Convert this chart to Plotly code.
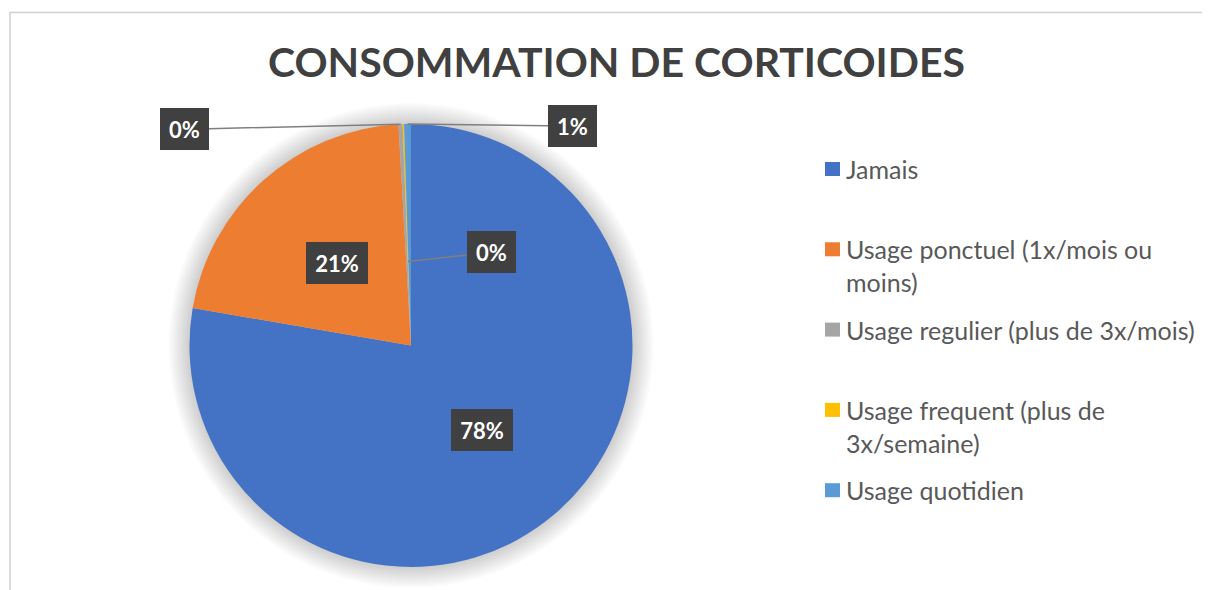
import math
import textwrap
import plotly.graph_objects as go

W, H = 1210, 590
OFF = 8  # page margin around the figure

categories = [
    "Jamais",
    "Usage ponctuel (1x/mois ou moins)",
    "Usage regulier (plus de 3x/mois)",
    "Usage frequent (plus de 3x/semaine)",
    "Usage quotidien",
]
values = [77.7, 21.4, 0.3, 0.1, 0.5]  # percent of respondents
colors = ["#4472C4", "#ED7D31", "#A5A5A5", "#FFC000", "#5B9BD5"]

# pie geometry in pixels (screen coords)
CX, CY, R = 411, 345.5, 221.5


def px(x):
    return (x - OFF) / W


def py(y):
    return 1 - (y - OFF) / H


def pct_text(v):
    return "%d%%" % math.floor(v + 0.5)


fig = go.Figure()

fig.add_trace(go.Pie(
    labels=categories, values=values, sort=False, direction="clockwise", rotation=0,
    marker=dict(colors=colors, line=dict(width=0)),
    textinfo="none", hoverinfo="label+percent", showlegend=False,
    domain=dict(x=[px(CX - R), px(CX + R)], y=[py(CY + R), py(CY - R)]),
))

shapes = []
# chart area border
shapes.append(dict(type="rect", xref="paper", yref="paper", x0=px(10), x1=1.02, y0=-0.02, y1=py(12.5),
                   line=dict(color="#D0D0D0", width=1.5), layer="below"))
# soft glow behind the pie
for i in range(10):
    r = R + 1 + i * 2.2
    shapes.append(dict(type="circle", xref="paper", yref="paper",
                       x0=px(CX - r), x1=px(CX + r), y0=py(CY + r), y1=py(CY - r),
                       fillcolor="rgba(0,0,0,0.02)", line=dict(width=0), layer="below"))

annotations = []
total = sum(values)
cum = 0
mids = []
for v in values:
    mids.append((cum + v / 2) / total * 2 * math.pi)
    cum += v


def on_pie(angle, frac):
    return CX + frac * R * math.sin(angle), CY - frac * R * math.cos(angle)


box = dict(bgcolor="#404040", borderwidth=0, borderpad=4, height=34,
           xanchor="center", yanchor="middle",
           font=dict(family="Lato", size=22, color="white", weight="bold"))

# big slices: label at half radius
for i in (0, 1):
    x, y = on_pie(mids[i], 0.5)
    t = pct_text(values[i])
    annotations.append(dict(x=px(x), y=py(y), xref="paper", yref="paper", text=t, showarrow=False,
                            width=13 * len(t) + 15, **box))

# small slices: callouts with leader lines (tip fraction, label offset in px)
callouts = {2: (1.0, -216, 5), 3: (0.38, 83, -9), 4: (1.0, 165, 2)}
for i, (frac, ax, ay) in callouts.items():
    x, y = on_pie(mids[i], frac)
    t = pct_text(values[i])
    annotations.append(dict(x=px(x), y=py(y), xref="paper", yref="paper", text=t,
                            showarrow=True, arrowhead=0, arrowwidth=1.5, arrowcolor="#7F7F7F",
                            ax=ax, ay=ay, standoff=0, width=13 * len(t) + 15, **box))

# legend drawn by hand so items are evenly spaced like the original
LEG_X, LEG_Y0, LEG_STEP, LINE_H = 825, 169, 80.3, 33
for i, name in enumerate(categories):
    yc = LEG_Y0 + i * LEG_STEP
    shapes.append(dict(type="rect", xref="paper", yref="paper",
                       x0=px(LEG_X), x1=px(LEG_X + 15), y0=py(yc + 7), y1=py(yc - 7),
                       fillcolor=colors[i], line=dict(width=0)))
    for k, line in enumerate(textwrap.wrap(name, 32)):
        annotations.append(dict(x=px(LEG_X + 19), y=py(yc + k * LINE_H), xref="paper", yref="paper",
                                text=line, showarrow=False, xanchor="left", yanchor="middle",
                                font=dict(family="Lato", size=25, color="#595959")))

fig.update_layout(
    width=W, height=H,
    margin=dict(l=0, r=0, t=0, b=0),
    paper_bgcolor="white",
    title=dict(text="CONSOMMATION DE CORTICOIDES", x=px(616.5), y=py(62.5),
               xanchor="center", yanchor="middle",
               font=dict(family="Lato", size=41, color="#404040", weight="bold")),
    shapes=shapes,
    annotations=annotations,
)

fig.write_html("out.html")
